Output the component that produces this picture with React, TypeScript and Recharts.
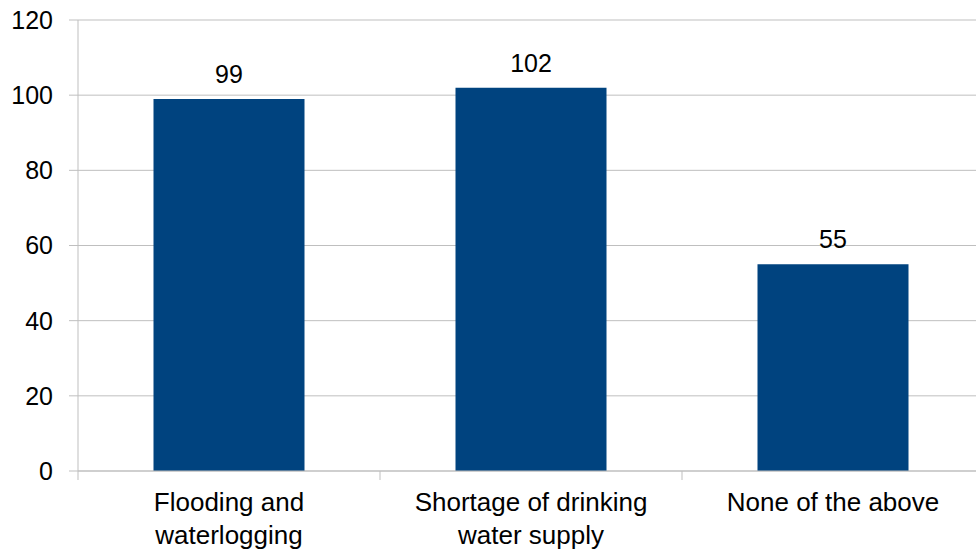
import { Bar, BarChart, CartesianGrid, LabelList, XAxis, YAxis } from 'recharts';

const categories = ['Flooding and\nwaterlogging', 'Shortage of drinking\nwater supply', 'None of the above'];
const counts = [99, 102, 55];
const yTicks = [0, 20, 40, 60, 80, 100, 120];

const data = categories.map((name, i) => ({ name, v: counts[i] }));

const font = '"Liberation Sans", Arial, sans-serif';
const grid = '#BFBFBF';

// category label, plus the tick mark between categories (on the left edge of each band)
function CategoryTick({ x, y, payload, width, visibleTicksCount }: any) {
  const lines = String(payload.value).split('\n');
  const half = width / visibleTicksCount / 2;
  return (
    <g>
      <line x1={x - half} x2={x - half} y1={y} y2={y + 9} stroke={grid} />
      <text x={x} y={y} textAnchor="middle" fontFamily={font} fontSize={26} fill="#000">
        {lines.map((l, i) => (
          <tspan key={i} x={x} dy={i === 0 ? 40 : 33}>{l}</tspan>
        ))}
      </text>
    </g>
  );
}

export default function App() {
  return (
    <div style={{ position: 'absolute', left: 0, top: 0, width: 976, height: 551, overflow: 'hidden', background: '#fff' }}>
      <BarChart width={984} height={551} data={data} barCategoryGap="25%" margin={{ top: 20, right: 0, left: 0, bottom: 50 }}>
        <CartesianGrid vertical={false} stroke={grid} />
        <XAxis
          dataKey="name"
          interval={0}
          stroke={grid}
          tickLine={false}
          tickSize={0}
          tickMargin={0}
          tick={<CategoryTick />}
        />
        <YAxis
          domain={[0, 120]}
          ticks={yTicks}
          width={78}
          stroke={grid}
          tickSize={9}
          tickMargin={16}
          tick={{ fontFamily: font, fontSize: 25, fill: '#000' }}
        />
        <Bar dataKey="v" fill="#00437F" isAnimationActive={false}>
          <LabelList dataKey="v" position="top" offset={16} style={{ fontFamily: font, fontSize: 25, fill: '#000' }} />
        </Bar>
      </BarChart>
    </div>
  );
}
